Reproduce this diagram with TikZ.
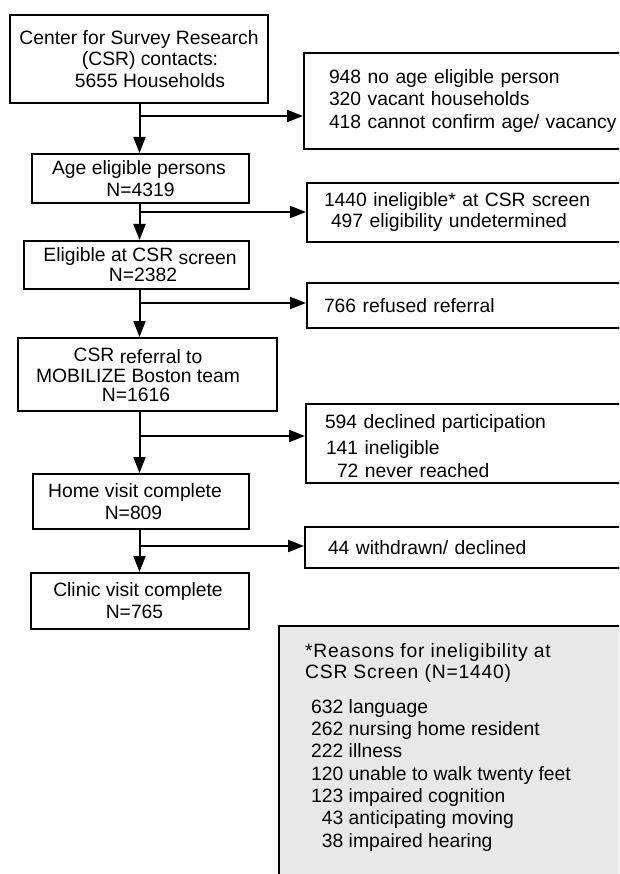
\documentclass[tikz,border=0pt]{standalone}
\usepackage{fontspec}
\setmainfont{Liberation Sans}
\newfontfamily\spacedfont[LetterSpace=4]{Liberation Sans}
\usetikzlibrary{arrows.meta}
\newcommand\mf{\fontsize{19.3}{22}\selectfont}
\begin{document}
\begin{tikzpicture}[x=1pt,y=-1pt,
  box/.style={draw, line width=2pt, inner sep=0pt, anchor=north west, align=center},
  rbox/.style={draw, line width=2pt, inner xsep=17pt, inner ysep=0pt, anchor=north west, text width=320pt, align=left},
  notebox/.style={draw, line width=2pt, fill=black!9, anchor=north west, inner sep=0pt},
  arr/.style={line width=2pt, -{Triangle[length=16pt,width=12pt]}},
  font=\mf]
\clip (0,0) rectangle (619,874);

% main column
\node[box, minimum width=258pt, minimum height=88pt] (b1) at (9,14)
  {Center for Survey Research\\[-0.5pt]\makebox[22pt]{}(CSR) contacts:\\[-0.5pt]\makebox[22pt]{}5655 Households};
\node[box, minimum width=217pt, minimum height=49pt] (b2) at (31,153)
  {Age eligible persons\makebox[3pt]{}\\N=4319};
\node[box, minimum width=225pt, minimum height=48pt] (b3) at (23,240)
  {\makebox[7pt]{}Eligible at CSR \raisebox{-2.5pt}{screen}\\[-2pt]\makebox[13pt]{}N=2382};
\node[box, minimum width=259pt, minimum height=73pt] (b4) at (17,337)
  {CSR \raisebox{-2pt}{referral to}\makebox[19pt]{}\\[-1pt]MOBILIZE Boston team\makebox[19pt]{}\\[-3pt]N=1616\makebox[23pt]{}};
\node[box, minimum width=216pt, minimum height=55pt] (b5) at (32,473)
  {Home visit complete\makebox[12pt]{}\\N=809\makebox[15pt]{}};
\node[box, minimum width=218pt, minimum height=56pt] (b6) at (30,572)
  {Clinic visit complete\makebox[4pt]{}\\N=765\makebox[11pt]{}};

% side boxes
\node[rbox, minimum height=96pt] (r1) at (303,52)
  {\hspace*{8pt}948 no age eligible person\\[0.5pt]\hspace*{8pt}320 vacant households\\[0.5pt]\hspace*{8pt}418 cannot confirm age/ vacancy};
\node[rbox, minimum height=59pt] (r2) at (306,182)
  {1440 ineligible* at CSR screen\\[-1pt]\hspace*{7pt}497 eligibility undetermined};
\node[rbox, minimum height=45pt] (r3) at (306,282)
  {766 refused referral};
\node[rbox, minimum height=79pt] (r4) at (305,403)
  {\rule{0pt}{20pt}\hspace*{2pt}594 declined participation\\[4pt]\hspace*{3pt}141 ineligible\\[1pt]\hspace*{14pt}72 never reached};
\node[rbox, minimum height=41pt] (r5) at (304,526)
  {\hspace*{6pt}44 withdrawn/ declined};

% note box
\node[notebox, minimum width=360pt, minimum height=280pt] (note) at (278,625) {};
\node[anchor=north west, inner sep=0pt, align=left] (notetext) at (305,642)
  {\spacedfont\rule{0pt}{15pt}*Reasons for ineligibility at\\[-1pt]
   \spacedfont CSR\hspace{6pt}Screen (N=1440)\\[13pt]
   \makebox[6pt]{}632 language\\[0.3pt]
   \makebox[6pt]{}262 nursing home resident\\[0.3pt]
   \makebox[6pt]{}222 illness\\[0.3pt]
   \makebox[6pt]{}120 unable to walk twenty feet\\[0.3pt]
   \makebox[6pt]{}123 impaired cognition\\[0.3pt]
   \makebox[6pt]{}\hphantom{0}43 anticipating moving\\[0.3pt]
   \makebox[6pt]{}\hphantom{0}38 impaired hearing};

% connectors
\coordinate (sp) at (139.5,0);
\coordinate (j1) at (139.5,116);
\coordinate (j2) at (139.5,212);
\coordinate (j3) at (139.5,303);
\coordinate (j4) at (139.5,436);
\coordinate (j5) at (139.5,546);
\draw[arr] (b1.south -| sp) -- (b2.north -| sp);
\draw[arr] (b2.south -| sp) -- (b3.north -| sp);
\draw[arr] (b3.south -| sp) -- (b4.north -| sp);
\draw[arr] (b4.south -| sp) -- (b5.north -| sp);
\draw[arr] (b5.south -| sp) -- (b6.north -| sp);
\draw[arr] (j1) -- (j1 -| r1.west);
\draw[arr] (j2) -- (j2 -| r2.west);
\draw[arr] (j3) -- (j3 -| r3.west);
\draw[arr] (j4) -- (j4 -| r4.west);
\draw[arr] (j5) -- (j5 -| r5.west);
\end{tikzpicture}
\end{document}
